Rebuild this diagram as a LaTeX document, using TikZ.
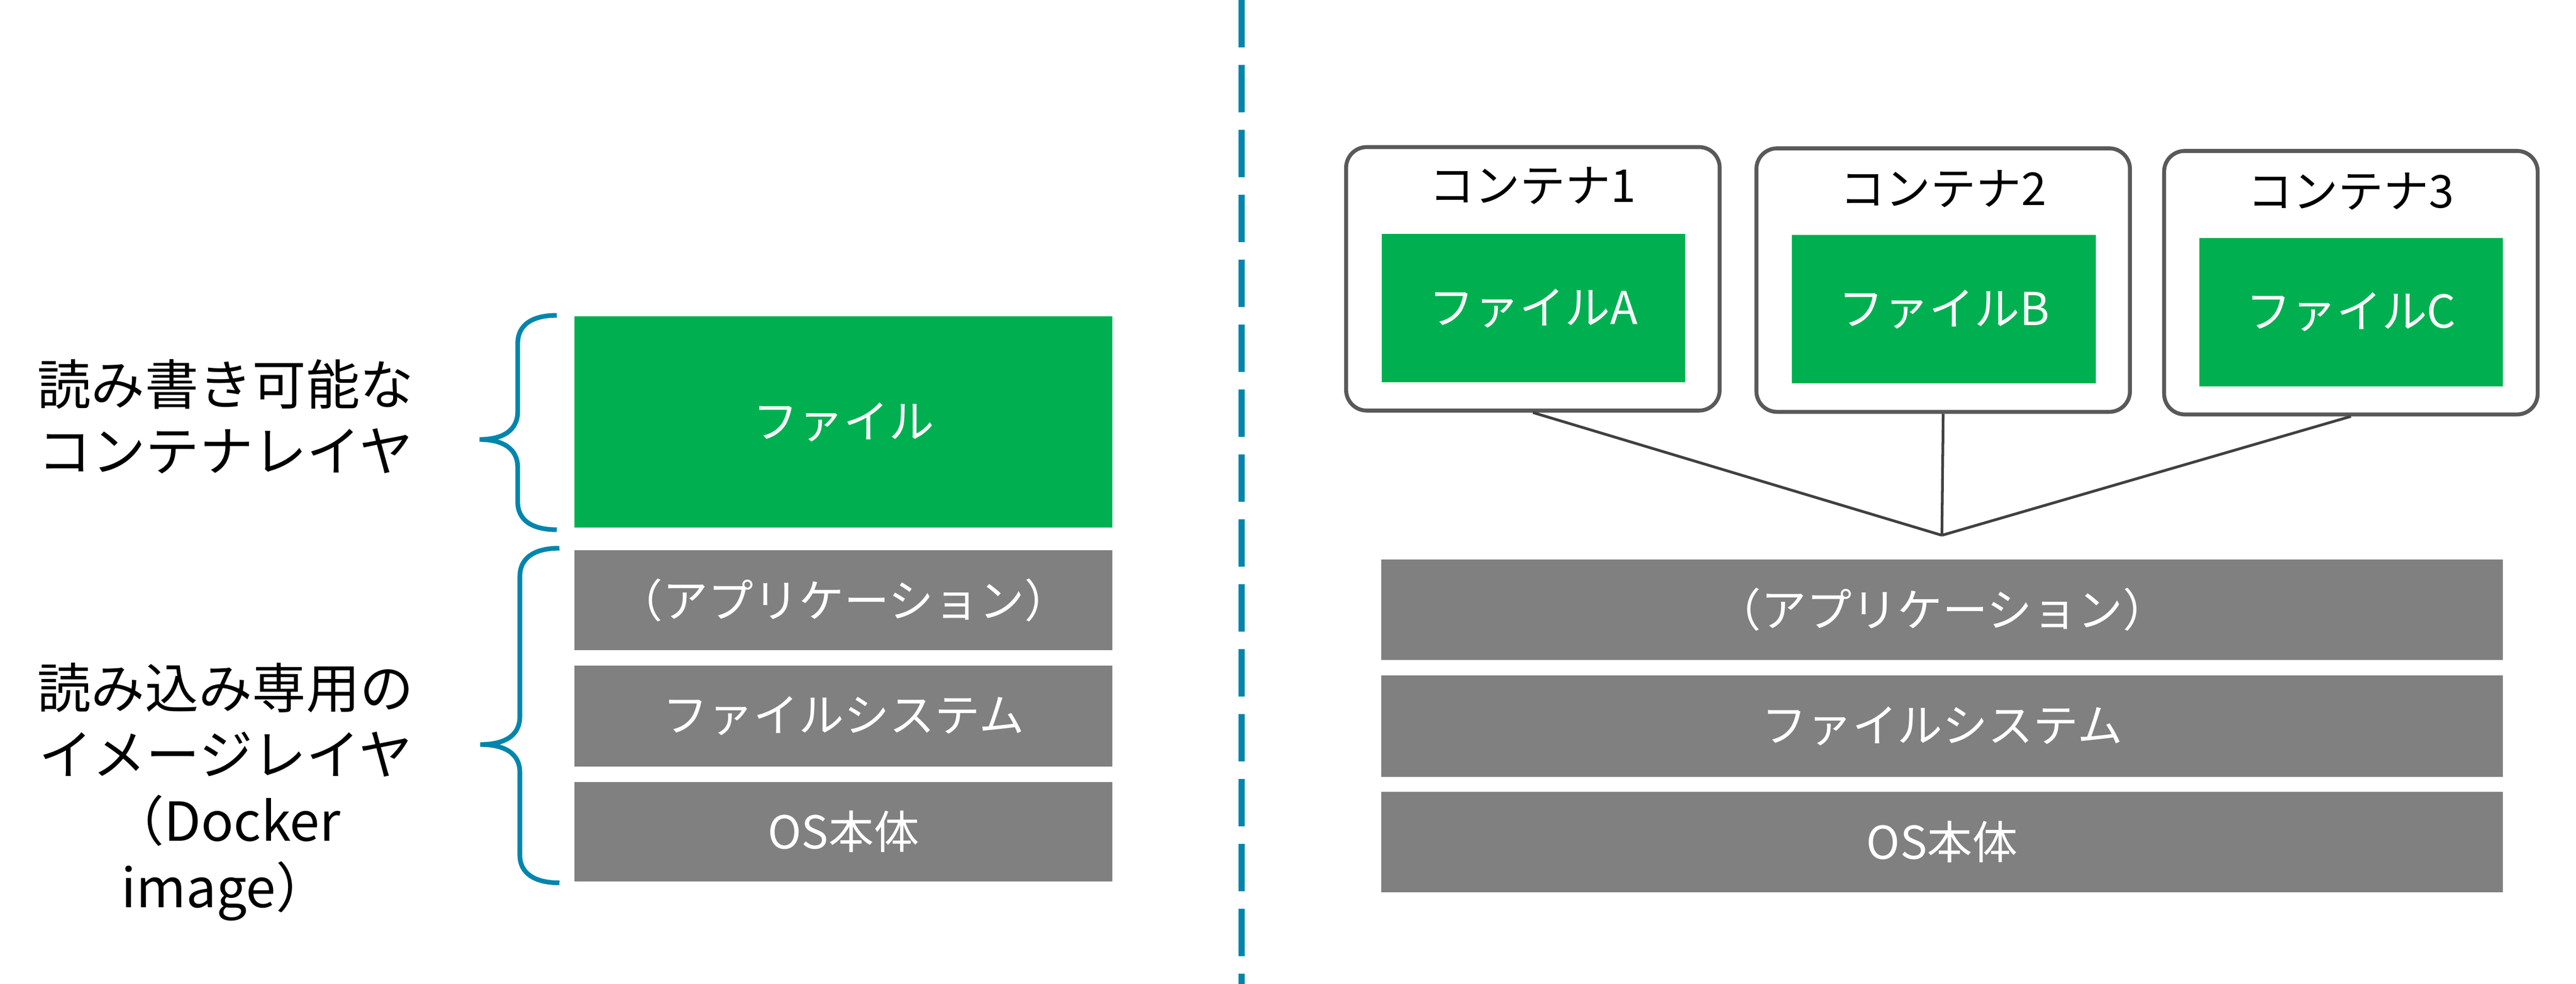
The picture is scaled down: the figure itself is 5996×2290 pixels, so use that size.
\documentclass[tikz,border=0pt]{standalone}
\usepackage{fontspec}
\setmainfont{Noto Sans CJK JP}

\definecolor{filegreen}{HTML}{00B050}
\definecolor{layergray}{HTML}{808080}
\definecolor{edgegray}{HTML}{595959}
\definecolor{linkgray}{HTML}{404040}
\definecolor{dockerblue}{HTML}{0086AD}

\tikzset{
    layer/.style={fill=layergray, text=white, inner sep=0pt, minimum height=2.34cm, font=\fontsize{30}{36}\selectfont},
    file/.style={fill=filegreen, text=white, inner sep=0pt, minimum width=7.06cm, minimum height=3.45cm, font=\fontsize{30}{36}\selectfont},
    box/.style={draw=edgegray, fill=white, line width=2.6pt, rounded corners=0.48cm, minimum width=8.69cm, minimum height=6.13cm},
    title/.style={inner sep=0pt, font=\fontsize{30}{36}\selectfont},
    sidetext/.style={align=center, inner sep=0pt, font=\fontsize{35.6}{44}\selectfont},
    curly/.style={draw=dockerblue, line width=3.1pt},
    link/.style={draw=linkgray, line width=1.8pt},
}

\begin{document}
\begin{tikzpicture}[x=0.01cm, y=-0.01cm]

    \useasboundingbox (0,0) rectangle (5996,2290);

    % image side
    \node[sidetext] (rwtext) at (525,970) {読み書き可能な\\コンテナレイヤ};
    \node[sidetext] (rotext) at (525,1843) {読み込み専用の\\イメージレイヤ\\（Docker\\image）};

    \node[file, minimum width=12.51cm, minimum height=4.91cm] (rwfile) at (1963.5,982.5) {ファイル};
    \node[layer, minimum width=12.51cm, minimum height=2.32cm] (app) at (1963.5,1397) {（アプリケーション）};
    \node[layer, minimum width=12.51cm, minimum height=2.35cm] (fs) at (1963.5,1666.5) {ファイルシステム};
    \node[layer, minimum width=12.51cm, minimum height=2.32cm] (os) at (1963.5,1936) {OS本体};

    \draw[curly] (1296,734) .. controls (1240,734) and (1205,755) .. (1205,800) -- (1205,958)
        .. controls (1205,1002) and (1170,1023) .. (1116,1023)
        .. controls (1170,1023) and (1205,1044) .. (1205,1088) -- (1205,1168)
        .. controls (1205,1212) and (1240,1233) .. (1296,1233);
    \draw[curly] (1302,1276) .. controls (1246,1276) and (1210,1297) .. (1210,1342) -- (1210,1668)
        .. controls (1210,1712) and (1175,1733) .. (1118,1733)
        .. controls (1175,1733) and (1210,1754) .. (1210,1798) -- (1210,1990)
        .. controls (1210,2034) and (1246,2055) .. (1302,2055);

    % divider
    \draw[dockerblue, line width=4pt, dash pattern=on 1.10cm off 0.41cm] (2890,0) -- (2890,2290);

    % container side
    \node[box] (c1) at (3568,649) {};
    \node[box] (c2) at (4523,652) {};
    \node[box] (c3) at (5472,658) {};

    \node[title] (t1) at (3568,432) {コンテナ1};
    \node[title] (t2) at (4523,439) {コンテナ2};
    \node[title] (t3) at (5472,446) {コンテナ3};

    \node[file] (fa) at (3569,717.5) {ファイルA};
    \node[file] (fb) at (4524.5,720) {ファイルB};
    \node[file] (fc) at (5472,726.5) {ファイルC};

    \coordinate (hub) at (4520,1246);
    \draw[link] (c1.south) -- (hub);
    \draw[link] (c2.south) -- (hub);
    \draw[link] (c3.south) -- (hub);

    \node[layer, minimum width=26.09cm] (app2) at (4520.5,1419) {（アプリケーション）};
    \node[layer, minimum width=26.09cm, minimum height=2.36cm] (fs2) at (4520.5,1690) {ファイルシステム};
    \node[layer, minimum width=26.09cm] (os2) at (4520.5,1960) {OS本体};

\end{tikzpicture}
\end{document}
